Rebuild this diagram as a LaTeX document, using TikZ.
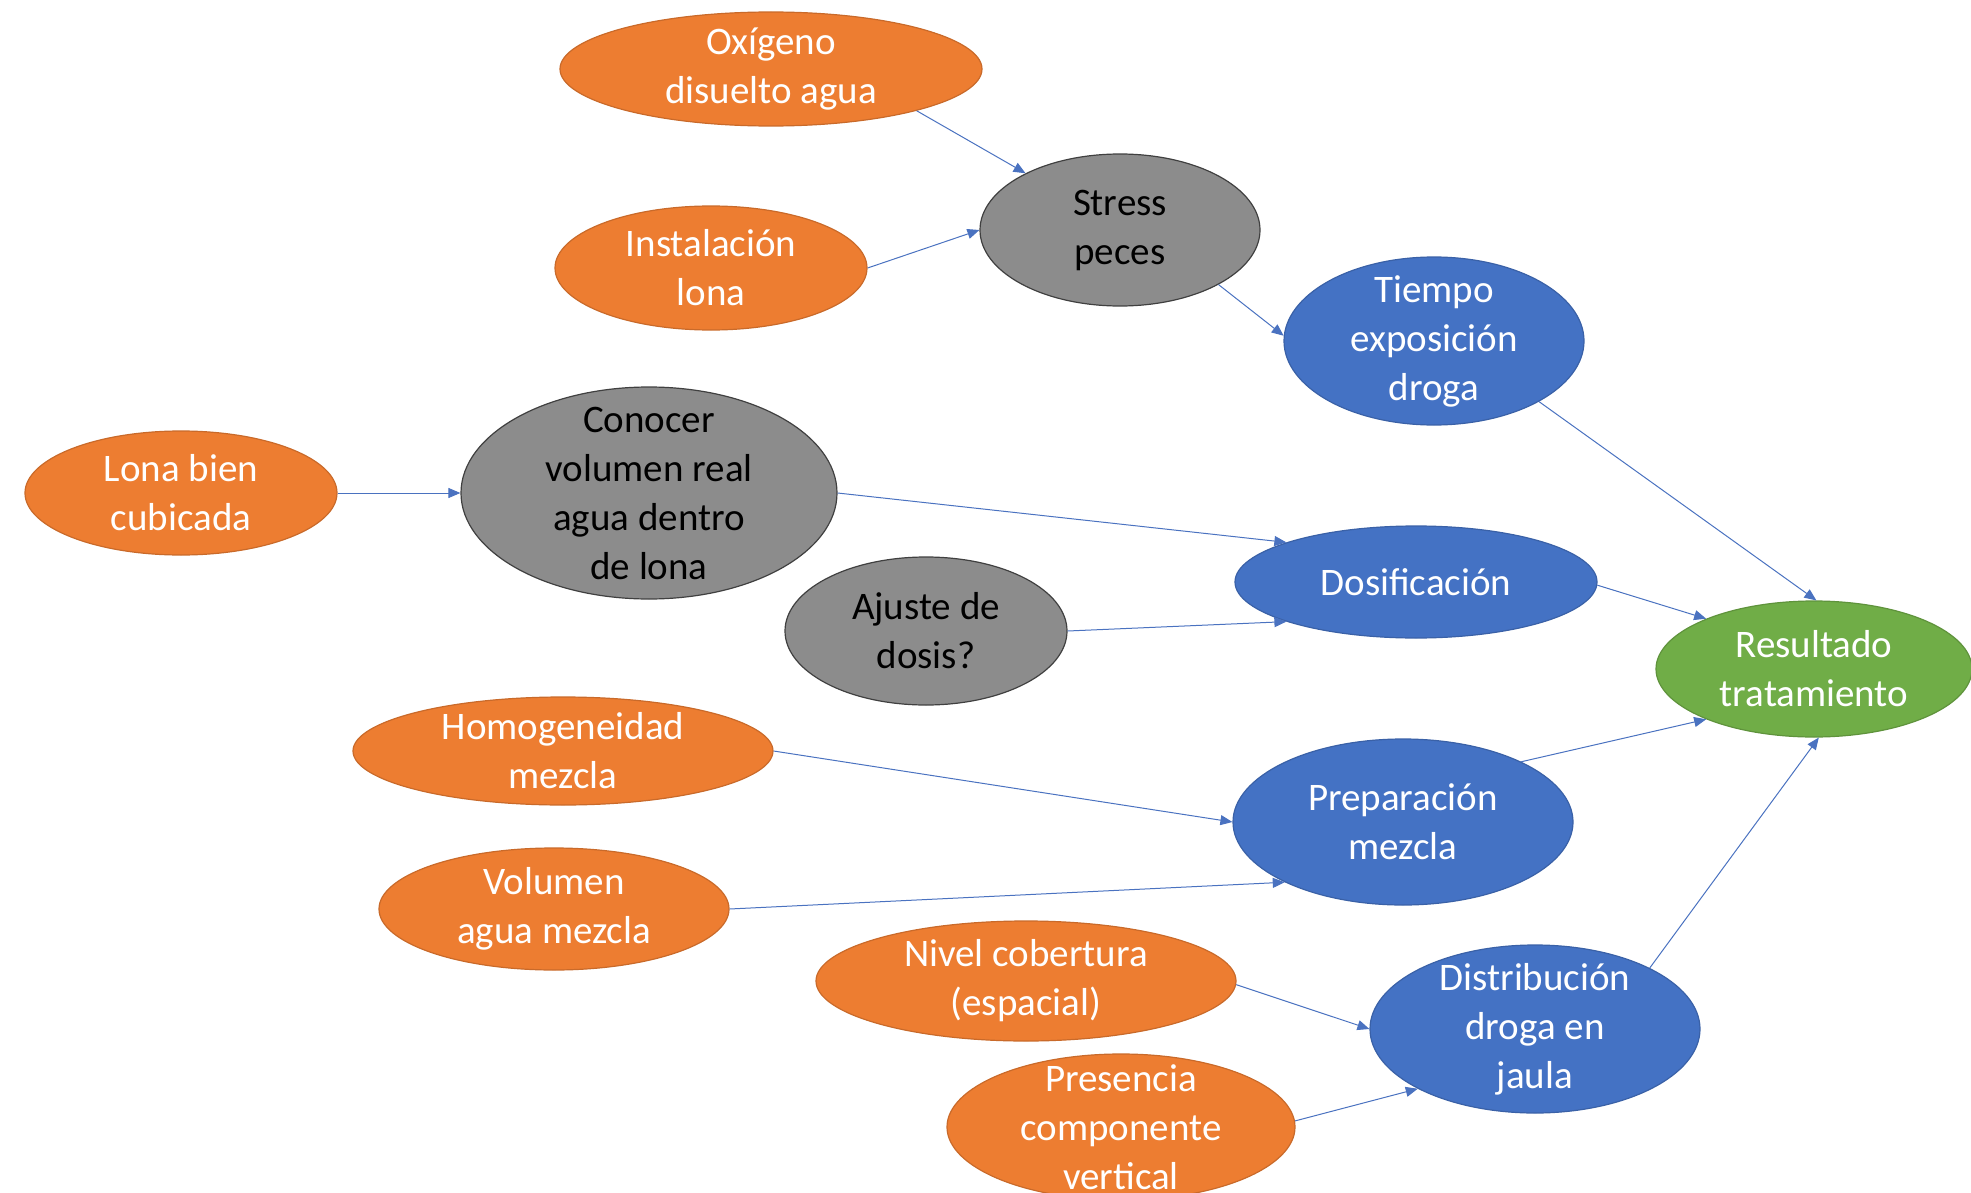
\documentclass[tikz,border=0pt]{standalone}
\usepackage{fontspec}
\setmainfont{Carlito}
\usetikzlibrary{shapes.geometric,arrows.meta}
\definecolor{orng}{HTML}{ED7D31}
\definecolor{grayfill}{HTML}{8C8C8C}
\definecolor{bluefill}{HTML}{4472C4}
\definecolor{greenfill}{HTML}{70AD47}
\definecolor{arrowblue}{HTML}{4A72C0}
\begin{document}
\begin{tikzpicture}[x=0.5pt,y=-0.5pt,
  bub/.style={ellipse, inner xsep=0pt, inner ysep=-20pt, align=center,
    font=\fontsize{19.5}{24.5}\selectfont, line width=0.6pt},
  orangebub/.style={bub, fill=orng, draw=orng!85!black, text=white},
  graybub/.style={bub, fill=grayfill, draw=black!75, text=black},
  bluebub/.style={bub, fill=bluefill, draw=bluefill!85!black, text=white},
  greenbub/.style={bub, fill=greenfill, draw=greenfill!85!black, text=white},
  conn/.style={draw=arrowblue, line width=0.5pt, -{Triangle[length=6pt,width=5pt]}}]
\useasboundingbox (0,0) rectangle (1971,1193);
\clip (0,0) rectangle (1971,1193);

\node[orangebub, minimum width=211pt, minimum height=57pt] (ox) at (771,69) {Oxígeno\\disuelto agua};
\node[orangebub, minimum width=156pt, minimum height=62pt] (inst) at (711,268) {Instalación\\lona};
\node[graybub, minimum width=140pt, minimum height=76pt] (st) at (1120,230) {Stress\\peces};
\node[bluebub, minimum width=150pt, minimum height=84pt] (tiempo) at (1434,341) {Tiempo\\exposición\\droga};
\node[orangebub, minimum width=156pt, minimum height=62pt] (lona) at (181,493) {Lona bien\\cubicada};
\node[graybub, minimum width=188pt, minimum height=106pt] (conocer) at (649,493) {Conocer\\volumen real\\agua dentro\\de lona};
\node[graybub, minimum width=141pt, minimum height=74pt] (ajuste) at (926,631) {Ajuste de\\dosis?};
\node[bluebub, minimum width=181pt, minimum height=56pt] (dosif) at (1416,582) {Dosificación};
\node[greenbub, minimum width=158pt, minimum height=68pt] (res) at (1814,669) {Resultado\\tratamiento};
\node[orangebub, minimum width=210pt, minimum height=54pt] (homog) at (563,751) {Homogeneidad\\mezcla};
\node[bluebub, minimum width=170pt, minimum height=83pt] (prep) at (1403,822) {Preparación\\mezcla};
\node[orangebub, minimum width=175pt, minimum height=61pt] (vol) at (554,909) {Volumen\\agua mezcla};
\node[orangebub, minimum width=210pt, minimum height=60pt] (nivel) at (1026,981) {Nivel cobertura\\(espacial)};
\node[bluebub, minimum width=165pt, minimum height=84pt] (dist) at (1535,1029) {Distribución\\droga en\\jaula};
\node[orangebub, minimum width=174pt, minimum height=73pt] (pres) at (1121,1127) {Presencia\\componente\\vertical};

\draw[conn] (ox.-16) -- (st.149);
\draw[conn] (inst.0) -- (st.180);
\draw[conn] (st.-29) -- (tiempo.178);
\draw[conn] (tiempo.-30) -- (res.88);
\draw[conn] (lona.0) -- (conocer.180);
\draw[conn] (conocer.0) -- (dosif.163);
\draw[conn] (ajuste.0) -- (dosif.197);
\draw[conn] (dosif.-1) -- (res.155);
\draw[conn] (homog.0) -- (prep.180);
\draw[conn] (vol.0) -- (prep.207);
\draw[conn] (prep.27) -- (res.205);
\draw[conn] (nivel.-1) -- (dist.180);
\draw[conn] (pres.2) -- (dist.207);
\draw[conn] (dist.28) -- (res.274);
\end{tikzpicture}
\end{document}
